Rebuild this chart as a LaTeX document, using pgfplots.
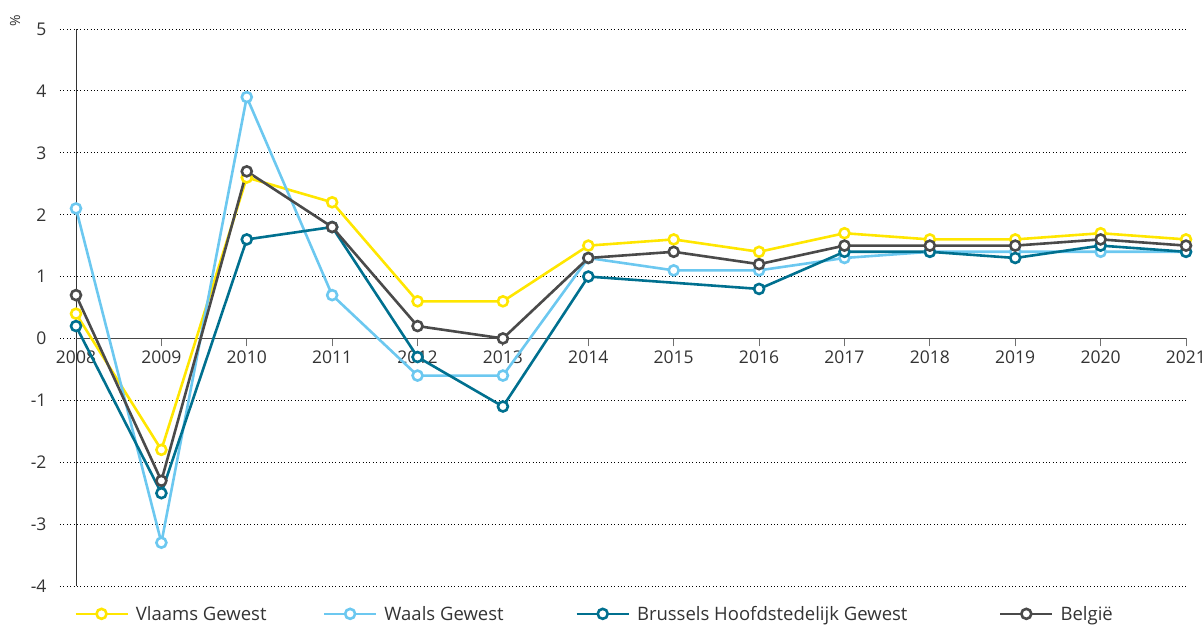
\documentclass[border=0pt]{standalone}
\usepackage{fontspec}
\setmainfont{Open Sans}
\usepackage{pgfplots}
\pgfplotsset{compat=1.18}
\definecolor{vl}{HTML}{FFE600}
\definecolor{wa}{HTML}{6CC8F0}
\definecolor{br}{HTML}{00708F}
\definecolor{be}{HTML}{4A4A4A}
\definecolor{txt}{HTML}{333333}
\begin{document}
\begin{tikzpicture}[x=1pt,y=1pt]
\useasboundingbox (0,0) rectangle (1203,626);
\node[rotate=90,font=\fontsize{14}{16}\selectfont,text=txt] at (15,605) {\%};
\begin{axis}[
  at={(60pt,40pt)}, anchor=south west,
  width=1126pt, height=557pt, scale only axis,
  xmin=2007.8126, xmax=2021, ymin=-4, ymax=5,
  axis x line*=middle, axis y line*=left,
  x axis line style={draw=none}, y axis line style={draw=none},
  xtick={2008,...,2021},
  ytick={-4,-3,-2,-1,0,1,2,3,4,5},
  yticklabels={-4,-3,-2,-1,0,1,2,3,4,5},
  tick align=outside, major tick length=8pt,
  xtick style={draw=txt!70, line width=0.8pt},
  ytick style={draw=none},
  /pgf/number format/assume math mode=true,
  x tick label style={/pgf/number format/1000 sep={}, font=\fontsize{17.5}{20}\selectfont, text=txt, yshift=-1pt},
  y tick label style={font=\fontsize{17.5}{20}\selectfont, text=txt, xshift=-2pt},
  ymajorgrids,
  grid style={black, line width=0.8pt, dash pattern=on 0.8pt off 2.6pt},
  clip=false,
  legend columns=4,
  legend style={draw=none, fill=none, at={(0.0098,-0.05)}, anchor=west,
    font=\fontsize{18.5}{20}\selectfont, text=txt,
    /tikz/every even column/.append style={column sep=0pt}},
  legend image code/.code={
    \draw[#1,mark=none] (0pt,0pt) -- (52pt,0pt);
    \draw[#1,only marks] plot coordinates {(26pt,0pt)};
  },
  every axis plot/.append style={line width=2.6pt, mark=o, mark size=5pt,
    mark options={solid, fill=white, line width=2pt}},
]
\draw[txt, line width=1pt] (axis cs:2008,-4) -- (axis cs:2008,5);
\draw[txt!90, line width=1pt] (axis cs:2008,0) -- (axis cs:2021,0);
\addplot[color=vl, mark=*, mark options={fill=white}] coordinates {
 (2008,0.4) (2009,-1.8) (2010,2.6) (2011,2.2) (2012,0.6) (2013,0.6) (2014,1.5)
 (2015,1.6) (2016,1.4) (2017,1.7) (2018,1.6) (2019,1.6) (2020,1.7) (2021,1.6)};
\addlegendentry{\makebox[190pt][l]{\hspace*{5pt}Vlaams Gewest}}
\addplot[color=wa, mark=*, mark options={fill=white}] coordinates {
 (2008,2.1) (2009,-3.3) (2010,3.9) (2011,0.7) (2012,-0.6) (2013,-0.6) (2014,1.3)
 (2015,1.1) (2016,1.1) (2017,1.3) (2018,1.4) (2019,1.4) (2020,1.4) (2021,1.4)};
\addlegendentry{\makebox[194pt][l]{\hspace*{5pt}Waals Gewest}}
\addplot[color=br, mark=*, mark options={fill=white}] coordinates {
 (2008,0.2) (2009,-2.5) (2010,1.6) (2011,1.8) (2012,-0.3) (2013,-1.1) (2014,1.0)
 (2016,0.8) (2017,1.4) (2018,1.4) (2019,1.3) (2020,1.5) (2021,1.4)};
\addlegendentry{\makebox[365pt][l]{\hspace*{5pt}Brussels Hoofdstedelijk Gewest}}
\addplot[color=be, mark=*, mark options={fill=white}] coordinates {
 (2008,0.7) (2009,-2.3) (2010,2.7) (2011,1.8) (2012,0.2) (2013,0.0) (2014,1.3)
 (2015,1.4) (2016,1.2) (2017,1.5) (2018,1.5) (2019,1.5) (2020,1.6) (2021,1.5)};
\addlegendentry{\hspace*{5pt}België}
\end{axis}
\end{tikzpicture}
\end{document}
